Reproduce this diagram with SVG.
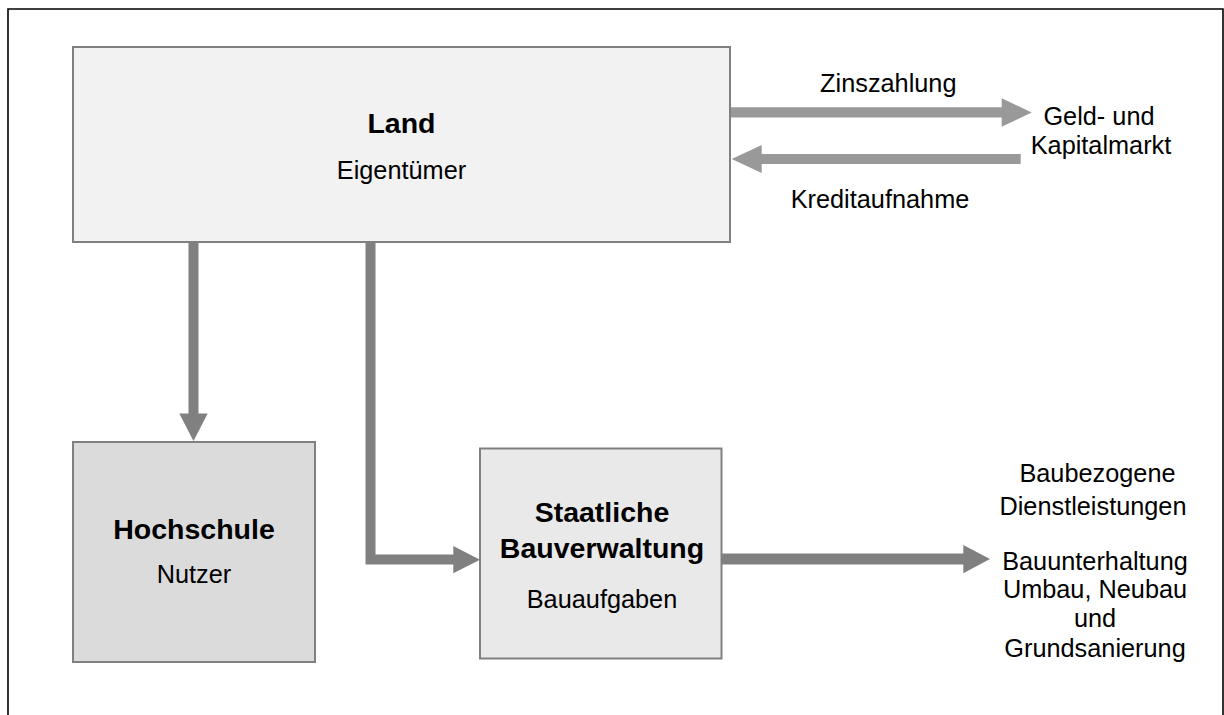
<svg xmlns="http://www.w3.org/2000/svg" width="1224" height="715" viewBox="0 0 1224 715">
<style>
text{font-family:"Liberation Sans",Arial,sans-serif;fill:#000;text-anchor:middle}
.t{font-size:28.5px;font-weight:bold}
.s{font-size:25.3px}
.box{stroke:#808080;stroke-width:2}
.dk{fill:#808080}
.lt{fill:#999999}
</style>
<rect width="1224" height="715" fill="#fff"/>
<path d="M8 716 V9 H1223 V716" fill="none" stroke="#000" stroke-width="1.6"/>
<g id="connectors">
  <path class="dk" d="M188.5 242 H198.5 V413.5 H207.7 L193.5 441 L179.3 413.5 H188.5 Z"/>
  <path class="dk" d="M365.5 242 H375.5 V554.5 H453.3 V546 L480 559.7 L453.3 573.3 V564.5 H365.5 Z"/>
  <path class="dk" d="M722 553.5 H963.3 V545 L990 559 L963.3 573.3 V564.5 H722 Z"/>
  <path class="lt" d="M730 107.3 H1001.7 V98.3 L1031.7 112.5 L1001.7 126.7 V117.5 H730 Z"/>
  <path class="lt" d="M1020.7 154 V164 H761.7 V173 L731.7 159 L761.7 145 V154 Z"/>
</g>
<g id="land">
  <rect class="box" x="73" y="47" width="657" height="195" fill="#f2f2f2"/>
  <text class="t" x="401.5" y="133.3">Land</text>
  <text class="s" x="401.5" y="179">Eigentümer</text>
</g>
<g id="hochschule">
  <rect class="box" x="73" y="442" width="242" height="220" fill="#dbdbdb"/>
  <text class="t" x="194" y="539.3">Hochschule</text>
  <text class="s" x="194" y="582.7">Nutzer</text>
</g>
<g id="bauverwaltung">
  <rect class="box" x="480" y="448.5" width="241.5" height="210" fill="#e9e9e9"/>
  <text class="t" x="602" y="521.7">Staatliche</text>
  <text class="t" x="602" y="558.3">Bauverwaltung</text>
  <text class="s" x="602" y="608.3">Bauaufgaben</text>
</g>
<g id="markt">
  <text class="s" x="1099" y="125">Geld- und</text>
  <text class="s" x="1101" y="154.3">Kapitalmarkt</text>
</g>
<g id="labels">
  <text class="s" x="888.3" y="91.7">Zinszahlung</text>
  <text class="s" x="880" y="208.3">Kreditaufnahme</text>
</g>
<g id="leistungen">
  <text class="s" x="1097.5" y="481.7">Baubezogene</text>
  <text class="s" x="1093" y="514.5">Dienstleistungen</text>
  <text class="s" x="1095" y="570">Bauunterhaltung</text>
  <text class="s" x="1095" y="598.3">Umbau, Neubau</text>
  <text class="s" x="1095" y="626.7">und</text>
  <text class="s" x="1095" y="656.7">Grundsanierung</text>
</g>
</svg>
